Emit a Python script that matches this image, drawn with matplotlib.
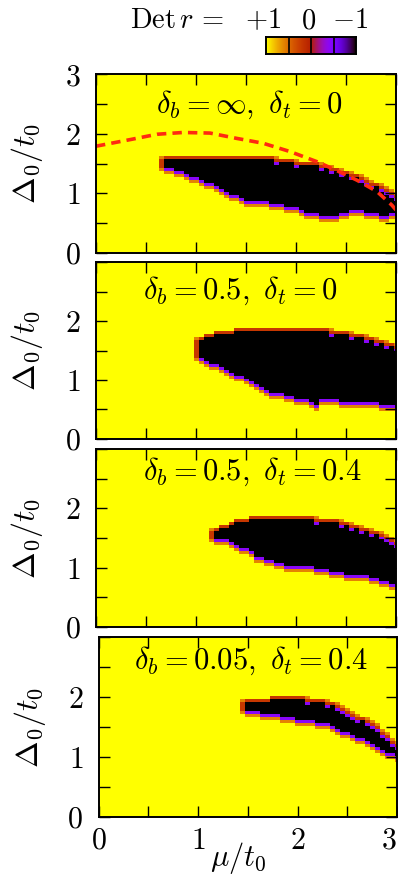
import matplotlib
matplotlib.use("Agg")
import matplotlib.pyplot as plt
import numpy as np

plt.rcParams['mathtext.fontset'] = 'cm'
plt.rcParams['font.family'] = 'serif'
plt.rcParams['font.serif'] = ['DejaVu Serif']

# scan grid, mu/t0 and Delta0/t0 in steps of 0.05
step = 0.05
mu_vals = np.round(np.arange(0, 3.0001, step), 3)
d_vals = np.round(np.arange(0, 3.0001, step), 3)

# Det r = -1 region per panel: first mu column, then upper / lower Delta edge of each column
p1_mu0 = 0.70
p1_top = [1.58, 1.58, 1.58, 1.57, 1.57, 1.57, 1.57, 1.57, 1.57, 1.57,
          1.57, 1.57, 1.57, 1.57, 1.57, 1.57, 1.57, 1.57, 1.57, 1.57,
          1.57, 1.55, 1.52, 1.52, 1.52, 1.52, 1.49, 1.47, 1.47, 1.47,
          1.46, 1.44, 1.41, 1.39, 1.36, 1.34, 1.31, 1.28, 1.25, 1.21,
          1.18, 1.14, 1.10, 1.06, 1.02, 0.98, 0.94]
p1_bot = [1.45, 1.42, 1.40, 1.36, 1.32, 1.29, 1.26, 1.23, 1.20, 1.16,
          1.12, 1.08, 1.04, 1.00, 0.96, 0.93, 0.90, 0.88, 0.87, 0.87,
          0.86, 0.85, 0.83, 0.82, 0.80, 0.78, 0.76, 0.73, 0.70, 0.68,
          0.66, 0.65, 0.64, 0.64, 0.64, 0.66, 0.70, 0.71, 0.71, 0.71,
          0.70, 0.67, 0.66, 0.63, 0.62, 0.66, 0.70]

p2_mu0 = 1.05
p2_top = [1.65, 1.70, 1.73, 1.75, 1.76, 1.78, 1.79, 1.80, 1.81, 1.82,
          1.82, 1.82, 1.82, 1.82, 1.82, 1.82, 1.82, 1.82, 1.82, 1.82,
          1.82, 1.82, 1.82, 1.82, 1.82, 1.80, 1.78, 1.77, 1.76, 1.75,
          1.74, 1.72, 1.70, 1.68, 1.66, 1.63, 1.60, 1.58, 1.56, 1.54]
p2_bot = [1.38, 1.34, 1.30, 1.26, 1.22, 1.18, 1.14, 1.10, 1.06, 1.01,
          0.97, 0.93, 0.88, 0.84, 0.80, 0.78, 0.77, 0.75, 0.72, 0.70,
          0.68, 0.67, 0.64, 0.60, 0.66, 0.68, 0.67, 0.66, 0.65, 0.64,
          0.63, 0.63, 0.63, 0.62, 0.62, 0.61, 0.60, 0.60, 0.60, 0.60]

p3_mu0 = 1.20
p3_top = [1.61, 1.65, 1.69, 1.73, 1.76, 1.78, 1.79, 1.80, 1.83, 1.84,
          1.84, 1.84, 1.84, 1.84, 1.84, 1.84, 1.84, 1.84, 1.84, 1.84,
          1.78, 1.78, 1.78, 1.77, 1.75, 1.73, 1.70, 1.68, 1.66, 1.64,
          1.61, 1.58, 1.55, 1.52, 1.46, 1.41, 1.38]
p3_bot = [1.48, 1.47, 1.47, 1.43, 1.39, 1.35, 1.32, 1.26, 1.20, 1.17,
          1.14, 1.11, 1.08, 1.06, 1.04, 1.04, 1.04, 1.03, 1.02, 1.01,
          0.99, 0.98, 0.96, 0.95, 0.93, 0.92, 0.90, 0.88, 0.87, 0.86,
          0.86, 0.84, 0.82, 0.80, 0.76, 0.73, 0.71]

p4_mu0 = 1.50
p4_top = [1.94, 1.94, 1.94, 1.94, 1.94, 1.98, 1.98, 1.98, 1.98, 1.98,
          1.98, 1.98, 1.94, 1.94, 1.94, 1.91, 1.88, 1.85, 1.82, 1.78,
          1.74, 1.69, 1.64, 1.60, 1.55, 1.50, 1.45, 1.38, 1.30, 1.22, 1.16]
p4_bot = [1.77, 1.77, 1.77, 1.74, 1.73, 1.73, 1.73, 1.68, 1.67, 1.66,
          1.63, 1.62, 1.62, 1.62, 1.60, 1.57, 1.56, 1.51, 1.47, 1.44,
          1.41, 1.38, 1.34, 1.31, 1.28, 1.23, 1.18, 1.14, 1.10, 1.08, 1.04]

# analytic boundary in the top panel (red dashed)
curve_mu = [0.0, 0.34, 0.61, 0.87, 1.14, 1.41, 1.67, 1.94, 2.21, 2.41, 2.61, 2.81, 2.96, 3.0]
curve_d = [1.79, 1.90, 1.99, 2.02, 2.01, 1.92, 1.84, 1.70, 1.53, 1.38, 1.22, 1.03, 0.80, 0.72]

titles = [r'$\delta_b=\infty,\ \delta_t=0$',
          r'$\delta_b=0.5,\ \delta_t=0$',
          r'$\delta_b=0.5,\ \delta_t=0.4$',
          r'$\delta_b=0.05,\ \delta_t=0.4$']
title_x = [0.51, 0.48, 0.52, 0.51]
title_y = [0.83, 0.84, 0.87, 0.87]

# values used on the edge of the -1 region
RED, ORANGE, PURPLE = 0.2, 0.6, -0.42


def make_grid(mu0, top, bot):
    z = np.ones((len(d_vals), len(mu_vals)))
    i0 = int(round(mu0 / step))
    prev_hi = None
    first_rows = None
    for k, (hi, lo) in enumerate(zip(top, bot)):
        j = i0 + k
        rows = np.where((d_vals >= lo - 1e-6) & (d_vals <= hi + 1e-6))[0]
        r_lo, r_hi = rows.min(), rows.max()
        z[r_lo:r_hi + 1, j] = -1
        if r_lo - 1 >= 0:
            z[r_lo - 1, j] = PURPLE
        if r_lo - 2 >= 0:
            z[r_lo - 2, j] = ORANGE
        z[r_hi + 1, j] = RED
        if prev_hi is not None and r_hi < prev_hi:
            z[r_hi, j] = PURPLE
            z[r_hi + 2, j] = ORANGE
        prev_hi = r_hi
        if first_rows is None:
            first_rows = (r_lo, r_hi)
    # left tip
    r_lo, r_hi = first_rows
    z[r_lo:r_hi + 1, i0 - 1] = RED
    z[r_hi + 1, i0 - 1] = ORANGE
    z[r_lo - 1, i0 - 1] = ORANGE
    return z


panels = [(p1_mu0, p1_top, p1_bot), (p2_mu0, p2_top, p2_bot),
          (p3_mu0, p3_top, p3_bot), (p4_mu0, p4_top, p4_bot)]

W, H = 398, 875
fig = plt.figure(figsize=(W / 100, H / 100), dpi=100)

# axes boxes in pixels: left, top, right, bottom
boxes = [(96, 74, 396, 253), (96, 262, 396, 439), (96, 449, 396, 627), (98.5, 637, 397, 817)]

mu_edges = np.append(mu_vals - step / 2, mu_vals[-1] + step / 2)
d_edges = np.append(d_vals - step / 2, d_vals[-1] + step / 2)
ticks = np.arange(0, 3.01, 0.5)

for n, ((mu0, top, bot), (l, t, r, b)) in enumerate(zip(panels, boxes)):
    ax = fig.add_axes([l / W, 1 - b / H, (r - l) / W, (b - t) / H])
    z = make_grid(mu0, top, bot)
    ax.pcolormesh(mu_edges, d_edges, z, cmap='gnuplot', vmin=-1, vmax=1, shading='flat')
    if n == 0:
        ax.plot(curve_mu, curve_d, color='#ff2a10', lw=2.6, dashes=(2.6, 1.7))
    ax.set_xlim(0, 3)
    ax.set_ylim(0, 3)
    ax.set_xticks(ticks)
    ax.set_yticks(ticks)
    ax.tick_params(direction='in', length=8, width=1.0, top=True, right=True,
                   labelsize=21.5)
    ax.tick_params(axis='y', pad=11)
    ax.tick_params(axis='x', pad=7)
    ylabs = ['$%d$' % v if v == int(v) else '' for v in ticks]
    if n > 0:
        ylabs[-1] = ''
    ax.set_yticklabels(ylabs)
    if n == 3:
        ax.set_xticklabels(['$%d$' % v if v == int(v) else '' for v in ticks])
        ax.get_xticklabels()[-1].set_horizontalalignment('right')
    else:
        ax.set_xticklabels([])
    for s in ax.spines.values():
        s.set_linewidth(1.4)
    ax.set_ylabel(r'$\Delta_0/t_0$', fontsize=23)
    ax.yaxis.set_label_coords(-0.17, 0.5)
    ax.text(title_x[n], title_y[n], titles[n], transform=ax.transAxes,
            ha='center', va='center', fontsize=22)

fig.text(238 / W, 1 - 858 / H, r'$\mu/t_0$', ha='center', va='center', fontsize=22)

# colour key at the top
cax = fig.add_axes([266 / W, 1 - 54 / H, 90 / W, 17 / H])
grad = np.linspace(1, -1, 200).reshape(1, -1)
cax.imshow(grad, cmap='gnuplot', vmin=-1, vmax=1, aspect='auto', extent=[0, 1, 0, 1])
for xv in [0.25, 0.5, 0.75]:
    cax.axvline(xv, color='black', lw=1.2)
cax.set_xticks([])
cax.set_yticks([])
for s in cax.spines.values():
    s.set_linewidth(1.4)

fig.text(177 / W, 1 - 21 / H, r'$\mathrm{Det}\,r\,=$', ha='center', va='center', fontsize=20.5)
fig.text(263 / W, 1 - 21 / H, r'$+1$', ha='center', va='center', fontsize=20.5)
fig.text(309 / W, 1 - 21 / H, r'$0$', ha='center', va='center', fontsize=20.5)
fig.text(350 / W, 1 - 21 / H, r'$-1$', ha='center', va='center', fontsize=20.5)

fig.savefig('out.png', dpi=100)
